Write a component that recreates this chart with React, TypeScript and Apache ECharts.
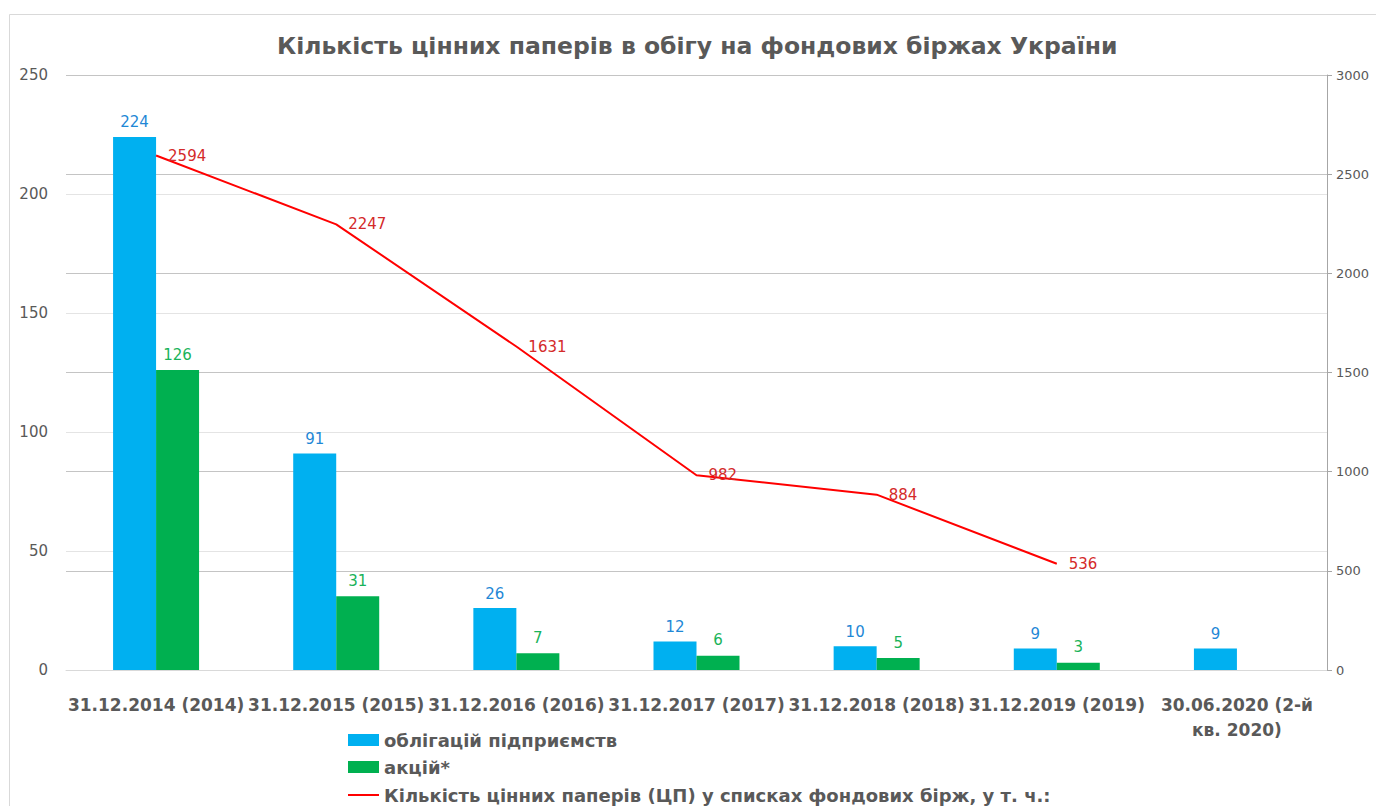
import React, { useEffect, useRef } from "react";
import * as echarts from "echarts";

const categories = [
  "31.12.2014 (2014)",
  "31.12.2015 (2015)",
  "31.12.2016 (2016)",
  "31.12.2017 (2017)",
  "31.12.2018 (2018)",
  "31.12.2019 (2019)",
  "30.06.2020 (2-й кв. 2020)",
];
const bonds = [224, 91, 26, 12, 10, 9, 9];
const shares: (number | null)[] = [126, 31, 7, 6, 5, 3, null];
const totalSecurities: (number | null)[] = [2594, 2247, 1631, 982, 884, 536, null];

const leftTicks = { min: 0, max: 250, interval: 50 };
const rightTicks = { min: 0, max: 3000, interval: 500 };

const titleText = "Кількість цінних паперів в обігу на фондових біржах України";
const seriesNames = [
  "облігацій підприємств",
  "акцій*",
  "Кількість цінних паперів (ЦП) у списках фондових бірж, у т. ч.:",
];

const FONT = "DejaVu Sans";
const GRAY = "#595959";

const legendText = { fontFamily: FONT, fontWeight: "bold", fontSize: 18, color: GRAY };

export default function App() {
  const ref = useRef<HTMLDivElement>(null);
  useEffect(() => {
    if (!ref.current) return;
    const chart = echarts.init(ref.current, undefined, { renderer: "svg" });
    chart.setOption({
      animation: false,
      backgroundColor: "#ffffff",
      textStyle: { fontFamily: FONT },
      title: {
        text: titleText,
        left: 272,
        top: 29,
        textStyle: { fontFamily: FONT, fontWeight: "bold", fontSize: 23.5, color: GRAY },
      },
      graphic: [
        {
          type: "rect",
          shape: { x: 9.5, y: 14.5, width: 1420, height: 900 },
          style: { fill: "none", stroke: "#d9d9d9", lineWidth: 1 },
          silent: true,
        },
      ],
      legend: [
        {
          left: 343,
          top: 726,
          itemWidth: 31,
          itemHeight: 12,
          icon: "rect",
          data: [seriesNames[0]],
          textStyle: legendText,
        },
        {
          left: 343,
          top: 753,
          itemWidth: 31,
          itemHeight: 12,
          icon: "rect",
          data: [seriesNames[1]],
          textStyle: legendText,
        },
        {
          left: 343,
          top: 781,
          itemWidth: 31,
          itemHeight: 2,
          icon: "rect",
          data: [seriesNames[2]],
          textStyle: legendText,
        },
      ],
      grid: { left: 66, right: 49, top: 75, bottom: 136, containLabel: false },
      xAxis: {
        type: "category",
        data: categories,
        axisLine: { show: true, lineStyle: { color: "#d9d9d9", width: 1 } },
        axisTick: { show: false },
        axisLabel: {
          interval: 0,
          margin: 22,
          fontFamily: FONT,
          fontWeight: "bold",
          fontSize: 17,
          color: GRAY,
          lineHeight: 25,
          formatter: (v: string) => v.replace(" кв.", "\nкв."),
        },
      },
      yAxis: [
        {
          type: "value",
          ...leftTicks,
          position: "left",
          axisLine: { show: false },
          axisTick: { show: false },
          splitLine: { lineStyle: { color: "#e4e4e4", width: 1 } },
          axisLabel: { fontFamily: FONT, fontSize: 15, color: GRAY, margin: 18 },
        },
        {
          type: "value",
          ...rightTicks,
          position: "right",
          axisLine: { show: true, lineStyle: { color: "#a6a6a6", width: 1 } },
          axisTick: { show: true, length: 5, lineStyle: { color: "#a6a6a6" } },
          splitLine: { lineStyle: { color: "#c4c4c4", width: 1 } },
          axisLabel: {
            fontFamily: FONT,
            fontSize: 13,
            color: GRAY,
            margin: 9,
            formatter: (v: number) => String(v),
          },
        },
      ],
      series: [
        {
          name: seriesNames[0],
          type: "bar",
          yAxisIndex: 0,
          data: bonds,
          barWidth: 43,
          barGap: "0%",
          itemStyle: { color: "#00B0F0" },
          label: {
            show: true,
            position: "top",
            distance: 7,
            fontFamily: FONT,
            fontSize: 15,
            color: "#1f88d6",
          },
        },
        {
          name: seriesNames[1],
          type: "bar",
          yAxisIndex: 0,
          data: shares,
          barWidth: 43,
          barGap: "0%",
          itemStyle: { color: "#00B050" },
          label: {
            show: true,
            position: "top",
            distance: 8,
            fontFamily: FONT,
            fontSize: 15,
            color: "#19b35a",
          },
        },
        {
          name: seriesNames[2],
          type: "line",
          yAxisIndex: 1,
          data: totalSecurities,
          symbol: "circle",
          symbolSize: 0,
          showSymbol: true,
          z: 5,
          lineStyle: { color: "#FF0000", width: 2 },
          itemStyle: { color: "#FF0000" },
          label: {
            show: true,
            position: "right",
            distance: 12,
            fontFamily: FONT,
            fontSize: 15,
            color: "#d42a2a",
          },
        },
      ],
    });
    return () => chart.dispose();
  }, []);
  return (
    <div
      ref={ref}
      style={{ position: "fixed", left: 0, top: 0, width: 1376, height: 806 }}
    />
  );
}
